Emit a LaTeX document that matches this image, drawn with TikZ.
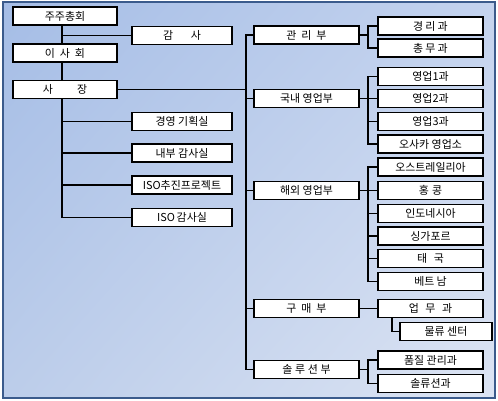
\documentclass[tikz,border=0pt]{standalone}
\usepackage{fontspec}
\setmainfont{Noto Sans CJK KR}
\usepackage{tikz}
\usetikzlibrary{shadings}
\definecolor{bgul}{HTML}{A5BDE6}
\definecolor{bgur}{HTML}{C4D3EE}
\definecolor{bgll}{HTML}{BCCDEA}
\definecolor{bglr}{HTML}{DCE4F3}
\definecolor{frame}{HTML}{3B5B8C}
\tikzset{
  orgbox/.style={draw=black, fill=white, line width=0.8pt, inner sep=0pt,
    minimum height=13.5pt, font=\fontsize{8.2}{10}\selectfont},
  leftbox/.style={orgbox, minimum width=78pt},
  staffbox/.style={orgbox, minimum width=75pt},
  deptbox/.style={orgbox, minimum width=78.75pt},
  teambox/.style={orgbox, minimum width=78.75pt},
  link/.style={line width=0.8pt}
}
\begin{document}
\begin{tikzpicture}[x=0.75pt, y=-0.75pt]
\useasboundingbox (0,0) rectangle (498,400);
\shade[upper left=bgul, upper right=bgur, lower left=bgll, lower right=bglr] (3,2) rectangle (495,398);
\draw[frame, line width=1.2pt] (3,2) rectangle (495,398);

\node[leftbox] (juju) at (65,16) {주주총회};
\node[leftbox] (isa) at (65,53) {이\hspace{0.45em}사\hspace{0.45em}회};
\node[leftbox] (sajang) at (65,89.5) {사\hspace{2.2em}장};

\node[staffbox] (gamsa) at (182,35.5) {감\hspace{1.6em}사};
\node[staffbox] (plan) at (182,121.5) {경영 기획실};
\node[staffbox] (audit) at (182,153) {내부 감사실};
\node[staffbox] (isopro) at (182,185) {ISO추진프로젝트};
\node[staffbox] (isoaud) at (182,217.5) {ISO\,감사실};

\node[deptbox] (gwanri) at (306.5,35) {관\hspace{0.45em}리\hspace{0.45em}부};
\node[deptbox] (guknae) at (306.5,98.5) {국내 영업부};
\node[deptbox] (haeoe) at (306.5,190.5) {해외 영업부};
\node[deptbox] (gumae) at (306.5,308.5) {구\hspace{0.45em}매\hspace{0.45em}부};
\node[deptbox] (solbu) at (306.5,369.5) {솔\hspace{0.25em}루\hspace{0.25em}션\hspace{0.25em}부};

\node[teambox] (gyeongri) at (430.5,26) {경\hspace{0.2em}리\hspace{0.2em}과};
\node[teambox] (chongmu) at (430.5,48) {총\hspace{0.2em}무\hspace{0.2em}과};

\node[teambox] (sales1) at (430.5,76.5) {영업1과};
\node[teambox] (sales2) at (430.5,98.5) {영업2과};
\node[teambox] (sales3) at (430.5,121.5) {영업3과};
\node[teambox] (osaka) at (430.5,144) {오사카 영업소};

\node[teambox] (aus) at (430.5,167) {오스트레일리아};
\node[teambox] (hk) at (430.5,190.5) {홍\hspace{0.3em}콩};
\node[teambox] (indo) at (430.5,213.5) {인도네시아};
\node[teambox] (sing) at (430.5,236) {싱가포르};
\node[teambox] (thai) at (430.5,258.5) {태\hspace{0.6em}국};
\node[teambox] (viet) at (430.5,281.5) {베트\hspace{0.2em}남};

\node[teambox] (upmu) at (430.5,308.5) {업\hspace{0.6em}무\hspace{0.6em}과};
\node[orgbox, minimum width=69pt] (logis) at (446,331.5) {물류 센터};

\node[teambox] (quality) at (430.5,360) {품질 관리과};
\node[teambox] (solteam) at (430.5,383.5) {솔류션과};

\coordinate (lt) at (62,0);
\coordinate (mt) at (246,0);
\coordinate (rt) at (368,0);
\coordinate (ut) at (392,0);

% left column
\draw[link] (juju.south -| lt) -- (isa.north -| lt);
\draw[link] (isa.south -| lt) -- (sajang.north -| lt);
\draw[link] (lt |- gamsa) -- (gamsa.west);
\draw[link] (sajang.south -| lt) |- (isoaud.west);
\foreach \n in {plan,audit,isopro}
  \draw[link] (lt |- \n) -- (\n.west);

% trunk
\draw[link] (sajang.east) -- (mt |- sajang);
\draw[link] (gwanri.west) -- (mt |- gwanri) -- (mt |- solbu) -- (solbu.west);
\foreach \n in {guknae,haeoe,gumae}
  \draw[link] (mt |- \n) -- (\n.west);

% teams
\draw[link] (gwanri.east) -- (rt |- gwanri);
\draw[link] (gyeongri.west) -- (rt |- gyeongri) -- (rt |- chongmu) -- (chongmu.west);

\draw[link] (guknae.east) -- (sales2.west);
\draw[link] (sales1.west) -- (rt |- sales1) -- (rt |- osaka) -- (osaka.west);
\draw[link] (rt |- sales3) -- (sales3.west);

\draw[link] (haeoe.east) -- (hk.west);
\draw[link] (aus.west) -- (rt |- aus) -- (rt |- viet) -- (viet.west);
\foreach \n in {indo,sing,thai}
  \draw[link] (rt |- \n) -- (\n.west);

\draw[link] (gumae.east) -- (upmu.west);
\draw[link] (upmu.south -| ut) |- (logis.west);

\draw[link] (solbu.east) -- (rt |- solbu);
\draw[link] (quality.west) -- (rt |- quality) -- (rt |- solteam) -- (solteam.west);
\end{tikzpicture}
\end{document}
